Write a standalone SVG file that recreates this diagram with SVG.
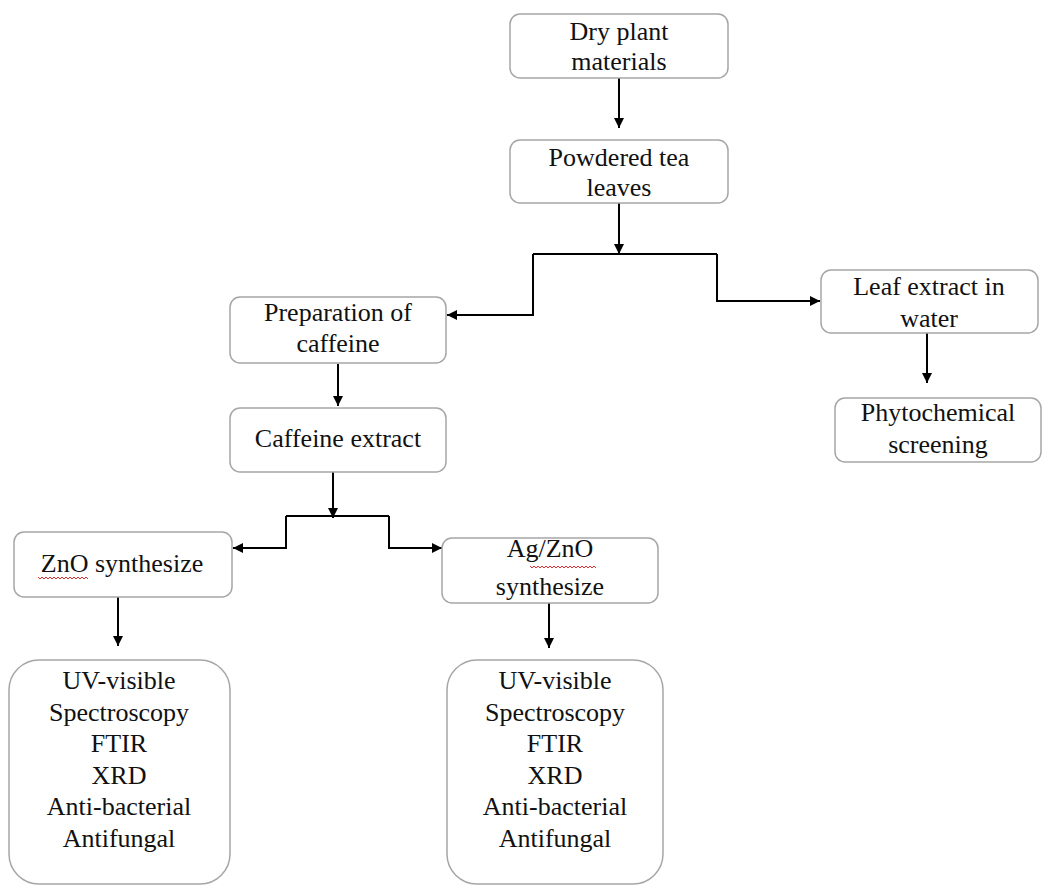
<svg xmlns="http://www.w3.org/2000/svg" width="1044" height="886" viewBox="0 0 1044 886">
  <style>
    .box { fill: #ffffff; stroke: #a6a6a6; stroke-width: 1.5; }
    .wire { fill: none; stroke: #000000; stroke-width: 2; }
    .squig { fill: none; stroke: #e03030; stroke-width: 1; }
  </style>
  <defs>
    <marker id="arrow" viewBox="0 0 10 10" refX="10" refY="5" markerWidth="10" markerHeight="10" markerUnits="userSpaceOnUse" orient="auto">
      <path d="M0,0 L10,5 L0,10 z" fill="#000000"/>
    </marker>
  </defs>
  <rect width="1044" height="886" fill="#ffffff"/>

  <g id="connectors">
    <path class="wire" d="M619,78 V128" marker-end="url(#arrow)"/>
    <path class="wire" d="M619,203 V254" marker-end="url(#arrow)"/>
    <path class="wire" d="M533,254 H717"/>
    <path class="wire" d="M533,254 V315 H447" marker-end="url(#arrow)"/>
    <path class="wire" d="M717,254 V301 H820" marker-end="url(#arrow)"/>
    <path class="wire" d="M927,333 V383" marker-end="url(#arrow)"/>
    <path class="wire" d="M338,364 V406" marker-end="url(#arrow)"/>
    <path class="wire" d="M333,472 V518" marker-end="url(#arrow)"/>
    <path class="wire" d="M286,516 H389"/>
    <path class="wire" d="M286,516 V548 H233" marker-end="url(#arrow)"/>
    <path class="wire" d="M389,516 V548 H442" marker-end="url(#arrow)"/>
    <path class="wire" d="M118,597 V646" marker-end="url(#arrow)"/>
    <path class="wire" d="M549,603 V648" marker-end="url(#arrow)"/>
  </g>

  <g id="nodes" font-family="Liberation Serif" font-size="26" fill="#111111" text-anchor="middle">
    <g id="dry-plant">
      <rect class="box" x="510" y="14" width="218" height="64" rx="10"/>
      <text style="font-family:'Liberation Serif'" x="619" y="40">Dry plant</text>
      <text style="font-family:'Liberation Serif'" x="619" y="70">materials</text>
    </g>

    <g id="powdered-tea">
      <rect class="box" x="510" y="140" width="218" height="63" rx="10"/>
      <text style="font-family:'Liberation Serif'" x="619" y="166">Powdered tea</text>
      <text style="font-family:'Liberation Serif'" x="619" y="196">leaves</text>
    </g>

    <g id="prep-caffeine">
      <rect class="box" x="230" y="297" width="216" height="66" rx="10"/>
      <text style="font-family:'Liberation Serif'" x="338" y="321">Preparation of</text>
      <text style="font-family:'Liberation Serif'" x="338" y="352">caffeine</text>
    </g>

    <g id="leaf-extract">
      <rect class="box" x="821" y="270" width="217" height="63" rx="10"/>
      <text style="font-family:'Liberation Serif'" x="929" y="295">Leaf extract in</text>
      <text style="font-family:'Liberation Serif'" x="929" y="327">water</text>
    </g>

    <g id="phytochemical">
      <rect class="box" x="835" y="398" width="206" height="64" rx="10"/>
      <text style="font-family:'Liberation Serif'" x="938" y="421">Phytochemical</text>
      <text style="font-family:'Liberation Serif'" x="938" y="453">screening</text>
    </g>

    <g id="caffeine-extract">
      <rect class="box" x="230" y="408" width="216" height="64" rx="10"/>
      <text style="font-family:'Liberation Serif'" x="338" y="447">Caffeine extract</text>
    </g>

    <g id="zno">
      <rect class="box" x="14" y="532" width="218" height="65" rx="10"/>
      <text style="font-family:'Liberation Serif'" x="122" y="572">ZnO synthesize</text>
      <path class="squig" d="M38,577 l2,2 l2,-2 l2,2 l2,-2 l2,2 l2,-2 l2,2 l2,-2 l2,2 l2,-2 l2,2 l2,-2 l2,2 l2,-2 l2,2 l2,-2 l2,2 l2,-2 l2,2 l2,-2 l2,2 l2,-2 l2,2 l2,-2 l2,2"/>
    </g>

    <g id="ag-zno">
      <rect class="box" x="442" y="538" width="216" height="65" rx="10"/>
      <text style="font-family:'Liberation Serif'" x="550" y="557">Ag/ZnO</text>
      <text style="font-family:'Liberation Serif'" x="550" y="595">synthesize</text>
      <path class="squig" d="M530,566 l2,2 l2,-2 l2,2 l2,-2 l2,2 l2,-2 l2,2 l2,-2 l2,2 l2,-2 l2,2 l2,-2 l2,2 l2,-2 l2,2 l2,-2 l2,2 l2,-2 l2,2 l2,-2 l2,2 l2,-2 l2,2 l2,-2 l2,2 l2,-2 l2,2 l2,-2 l2,2 l2,-2 l2,2 l2,-2 l2,2"/>
    </g>

    <g id="zno-tests">
      <rect class="box" x="9" y="660" width="221" height="224" rx="30"/>
      <text style="font-family:'Liberation Serif'" x="119" y="689">UV-visible</text>
      <text style="font-family:'Liberation Serif'" x="119" y="721">Spectroscopy</text>
      <text style="font-family:'Liberation Serif'" x="119" y="752">FTIR</text>
      <text style="font-family:'Liberation Serif'" x="119" y="784">XRD</text>
      <text style="font-family:'Liberation Serif'" x="119" y="815">Anti-bacterial</text>
      <text style="font-family:'Liberation Serif'" x="119" y="847">Antifungal</text>
    </g>

    <g id="ag-zno-tests">
      <rect class="box" x="447" y="660" width="216" height="224" rx="30"/>
      <text style="font-family:'Liberation Serif'" x="555" y="689">UV-visible</text>
      <text style="font-family:'Liberation Serif'" x="555" y="721">Spectroscopy</text>
      <text style="font-family:'Liberation Serif'" x="555" y="752">FTIR</text>
      <text style="font-family:'Liberation Serif'" x="555" y="784">XRD</text>
      <text style="font-family:'Liberation Serif'" x="555" y="815">Anti-bacterial</text>
      <text style="font-family:'Liberation Serif'" x="555" y="847">Antifungal</text>
    </g>
  </g>
</svg>
